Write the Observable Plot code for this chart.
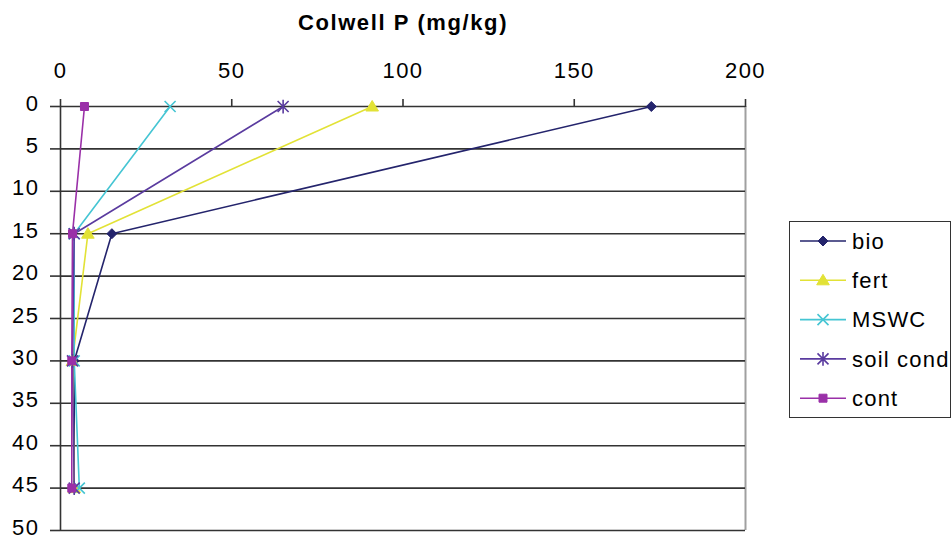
<!DOCTYPE html>
<html><head><meta charset="utf-8">
<script src="https://cdn.jsdelivr.net/npm/d3@7"></script>
<script src="https://cdn.jsdelivr.net/npm/@observablehq/plot@0.6"></script>
<style>
body{margin:0;background:#fff;font-family:"Liberation Sans",Arial,sans-serif;}
#wrap{position:relative;width:952px;height:540px;}
#title{position:absolute;left:0;width:806px;top:11px;text-align:center;font-weight:bold;font-size:22px;line-height:24px;letter-spacing:1.6px;color:#000;}
#legend{position:absolute;left:789px;top:221px;width:162px;height:197px;border:1.5px solid #333;box-sizing:border-box;background:#fff;}
#chart svg text{letter-spacing:1.5px;}
</style></head>
<body>
<div id="wrap">
  <div id="chart"></div>
  <div id="title">Colwell P (mg/kg)</div>
  <div id="legend"></div>
</div>
<script>
const title = "Colwell P (mg/kg)";
const depths = [0, 15, 30, 45];
const seriesNames = ["bio", "fert", "MSWC", "soil cond", "cont"];
const bio = [172.5, 15, 4, 4];
const fert = [91, 8, 3.5, 4];
const mswc = [32, 4, 4, 5.5];
const soilCond = [65, 4, 3.5, 4];
const cont = [7, 3.5, 3.3, 3.3];
const xTicks = [0, 50, 100, 150, 200];
const yTicks = [0, 5, 10, 15, 20, 25, 30, 35, 40, 45, 50];
const colors = ["#24246c", "#e2e236", "#45c5d3", "#5a3b9f", "#9a30a8"];

const values = [bio, fert, mswc, soilCond, cont];
const rows = seriesNames.flatMap((s, i) => depths.map((d, j) => ({series: s, depth: d, value: values[i][j]})));

function rOf(size) { return Math.sqrt(size / Math.PI); }
const symTimes = {draw(ctx, size) { const r = rOf(size); ctx.moveTo(-r, -r); ctx.lineTo(r, r); ctx.moveTo(r, -r); ctx.lineTo(-r, r); }};
const symAsterisk = {draw(ctx, size) { const r = rOf(size); ctx.moveTo(-r, -r); ctx.lineTo(r, r); ctx.moveTo(r, -r); ctx.lineTo(-r, r); ctx.moveTo(0, -r * 1.25); ctx.lineTo(0, r * 1.25); }};
const symDiamond = {draw(ctx, size) { const r = rOf(size); ctx.moveTo(0, -r); ctx.lineTo(r, 0); ctx.lineTo(0, r); ctx.lineTo(-r, 0); ctx.closePath(); }};
const symTriangle = {draw(ctx, size) { const r = rOf(size); ctx.moveTo(0, -r); ctx.lineTo(r * 1.05, r * 0.75); ctx.lineTo(-r * 1.05, r * 0.75); ctx.closePath(); }};
const symSquare = {draw(ctx, size) { const r = rOf(size) * 0.8; ctx.rect(-r, -r, 2 * r, 2 * r); }};
const symbols = [symDiamond, symTriangle, symTimes, symAsterisk, symSquare];
const filled = [true, true, false, false, true];
const radii = [5, 6, 5.5, 5.5, 5];

const dotMarks = seriesNames.map((s, i) => Plot.dot(rows.filter(r => r.series === s), {
  x: "value", y: "depth", symbol: symbols[i], r: radii[i],
  fill: filled[i] ? colors[i] : "none", stroke: colors[i], strokeWidth: filled[i] ? 1 : 1.6
}));

const chart = Plot.plot({
  width: 952, height: 540,
  marginTop: 106, marginBottom: 10, marginLeft: 60, marginRight: 207,
  style: {fontFamily: "'Liberation Sans', Arial, sans-serif", fontSize: "22px", color: "#000", background: "#fff"},
  x: {domain: [0, 200]},
  y: {domain: [0, 50], reverse: true},
  color: {domain: seriesNames, range: colors},
  marks: [
    Plot.ruleX([200], {y1: 0, y2: 50, stroke: "#a0a0a0", strokeWidth: 2}),
    Plot.ruleY(yTicks, {x1: 0, x2: 200, stroke: "#333", strokeWidth: 1.6}),
    Plot.ruleX([0], {y1: 0, y2: 50, stroke: "#333", strokeWidth: 1.6}),
    Plot.axisX({anchor: "top", ticks: xTicks, tickSize: 8, tickPadding: 21, fontSize: 22, label: null, stroke: "#333", strokeWidth: 1.6, fill: "#000"}),
    Plot.axisY({anchor: "left", ticks: yTicks, tickSize: 10, label: null, stroke: "#333", strokeWidth: 1.6, fill: "none"}),
    Plot.axisY({anchor: "left", ticks: yTicks, tickSize: 0, tickPadding: 21, dy: -3, fontSize: 22, label: null, stroke: "none", fill: "#000"}),
    Plot.line(rows, {x: "value", y: "depth", z: "series", stroke: "series", strokeWidth: 1.6}),
    ...dotMarks
  ]
});
document.getElementById("chart").appendChild(chart);

// Legend
const lg = d3.select("#legend").append("svg").attr("width", 159).attr("height", 194)
  .style("font-family", "'Liberation Sans', Arial, sans-serif");
seriesNames.forEach((s, i) => {
  const y = 19 + i * 39.3;
  const g = lg.append("g").attr("transform", `translate(0,${y})`);
  g.append("line").attr("x1", 10).attr("x2", 56).attr("y1", 0).attr("y2", 0).attr("stroke", colors[i]).attr("stroke-width", 1.6);
  g.append("path").attr("transform", "translate(33,0)")
    .attr("d", d3.symbol().type(symbols[i]).size(Math.PI * radii[i] * radii[i])())
    .attr("fill", filled[i] ? colors[i] : "none").attr("stroke", colors[i]).attr("stroke-width", filled[i] ? 1 : 1.6);
  g.append("text").attr("x", 62).attr("y", 0).attr("dy", "0.35em").attr("font-size", 22)
    .attr("letter-spacing", "1.2px").attr("fill", "#000").text(s);
});
</script>
</body></html>
